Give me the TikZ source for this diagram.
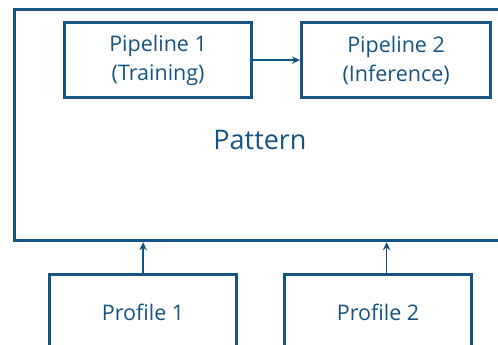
\documentclass[tikz,border=0pt]{standalone}
\usepackage{fontspec}
\setmainfont{Open Sans}
\usetikzlibrary{arrows.meta}
\definecolor{patblue}{RGB}{22,84,132}

\begin{document}
\begin{tikzpicture}[x=1pt, y=-1pt,
    box/.style={rectangle, draw=patblue, line width=3.2pt, text=patblue,
    align=center, inner sep=0pt, minimum width=187pt, minimum height=75pt,
    font=\fontsize{21.5}{29}\selectfont},
    link/.style={->, draw=patblue, line width=1.5pt},
    >={Stealth[length=8pt,width=7.5pt]}]

  \useasboundingbox (0,0) rectangle (498,345);
  \node[box, anchor=north west, minimum width=510pt, minimum height=231pt]
    (pattern) at (13,8) {};
  \node[text=patblue, font=\fontsize{27}{32}\selectfont] (label) at (260,140) {Pattern};
  \node[box, anchor=north west] (pipeA) at (63,21) {Pipeline 1\\(Training)};
  \node[box, anchor=north west, minimum width=189pt] (pipeB) at (300,21) {Pipeline 2\\(Inference)};
  \node[box, anchor=north west] (profA) at (48,273) {Profile 1};
  \node[box, anchor=north west] (profB) at (283,273) {Profile 2};
  \draw[link] (pipeA) -- (pipeB);
  \draw[link] (profA.north) -- (profA.north |- pattern.south);
  \draw[link] ([xshift=8.5pt]profB.north) -- ([xshift=8.5pt]profB.north |- pattern.south);
\end{tikzpicture}
\end{document}
